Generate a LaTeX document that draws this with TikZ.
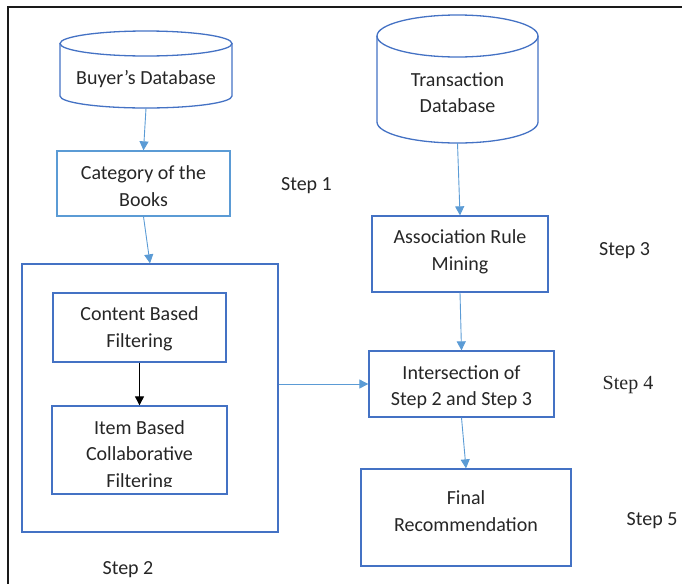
\documentclass[tikz,border=0pt]{standalone}
\usepackage{fontspec}
\setmainfont{Carlito}
\newfontfamily\stepserif{Liberation Serif}
\usetikzlibrary{arrows.meta,calc}
\definecolor{boxblue}{HTML}{4472C4}
\definecolor{lightblue}{HTML}{5B9BD5}
\definecolor{ink}{HTML}{262626}
\definecolor{framegray}{HTML}{1A1A1A}
\tikzset{
  txt/.style={inner sep=0pt, text=ink, align=center, font=\fontsize{20}{26.5}\selectfont},
  box/.style={draw=boxblue, line width=1.3pt, inner sep=0pt},
  lightbox/.style={box, draw=lightblue},
  cyl/.style={draw=boxblue, line width=1.3pt},
  arr/.style={draw=lightblue, line width=0.9pt, -{Triangle[length=9pt,width=9pt]}},
  blackarr/.style={draw=black, line width=0.9pt, -{Triangle[length=9pt,width=9pt]}},
  steplabel/.style={txt},
  frameline/.style={draw=framegray, line width=1.6pt}
}
\begin{document}
\begin{tikzpicture}[x=1pt,y=-1pt]
\useasboundingbox (0,0) rectangle (682,584);
% page frame
\draw[frameline] (7,7) -- (682,7);
\draw[frameline] (8,7) -- (8,584);

% Buyer's Database cylinder
\draw[cyl] (146,43.5) ellipse[x radius=86, y radius=12.5];
\draw[cyl] (60,43.5) -- (60,96) arc[start angle=180, end angle=0, x radius=86, y radius=12] -- (232,43.5);
\node[minimum width=172, minimum height=64, inner sep=0pt] (buyer) at (146,76) {};
\node[txt] (buyertext) at ($(buyer.center)+(0,3)$) {Buyer’s Database};

% Transaction Database cylinder
\draw[cyl] (457.5,36) ellipse[x radius=80.5, y radius=21];
\draw[cyl] (377,36) -- (377,122) arc[start angle=180, end angle=0, x radius=80.5, y radius=21] -- (538,36);
\node[minimum width=161, minimum height=102, inner sep=0pt] (trans) at (457.5,92) {};
\node[txt] (transtext) at ($(trans.center)+(0,0.5)$) {Transaction\\Database};

% process boxes
\node[lightbox, minimum width=173, minimum height=65] (cat) at (143.5,183.5) {};
\node[txt] (cattext) at ($(cat.center)+(0,2.5)$) {Category of the\\Books};
\node[box, minimum width=256, minimum height=268] (step2) at (150,398) {};
\node[box, minimum width=173, minimum height=69] (content) at (139.5,327.5) {};
\node[txt] (contenttext) at ($(content.center)+(0,1.5)$) {Content Based\\Filtering};
\node[box, minimum width=175, minimum height=88] (item) at (139.5,450) {};
\begin{scope}
  \clip (52,406) rectangle (227,486);
  \node[txt] (itemtext) at ($(item.center)+(0,5.5)$) {Item Based\\Collaborative\\Filtering};
\end{scope}
\node[box, minimum width=176, minimum height=76] (assoc) at (460,254) {};
\node[txt] (assoctext) at ($(assoc.center)+(0,-2)$) {Association Rule\\Mining};
\node[box, minimum width=185, minimum height=66] (inter) at (461.5,384) {};
\node[txt] (intertext) at ($(inter.center)+(0,3)$) {Intersection of\\Step 2 and Step 3};
\node[box, minimum width=210, minimum height=97] (final) at (466,517.5) {};
\node[txt] (finaltext) at ($(final.center)+(0,-6.5)$) {Final\\Recommendation};

% step labels
\node[steplabel] (s1) at (306.5,186) {Step 1};
\node[steplabel] (s2) at (128,570) {Step 2};
\node[steplabel] (s3) at (624.5,251) {Step 3};
\node[steplabel, font=\fontsize{20}{24}\stepserif] (s4) at (628,385) {Step 4};
\node[steplabel] (s5) at (652,521) {Step 5};

% connectors
\draw[arr] (buyer.south) -- (cat.north);
\draw[arr] (cat.south) -- (step2.north);
\draw[blackarr] (content.south) -- (item.north);
\draw[arr] (trans.south) -- (assoc.north);
\draw[arr] (assoc.south) -- (inter.north);
\draw[arr] (step2.east |- inter.west) -- (inter.west);
\draw[arr] (inter.south) -- (final.north);
\end{tikzpicture}
\end{document}
